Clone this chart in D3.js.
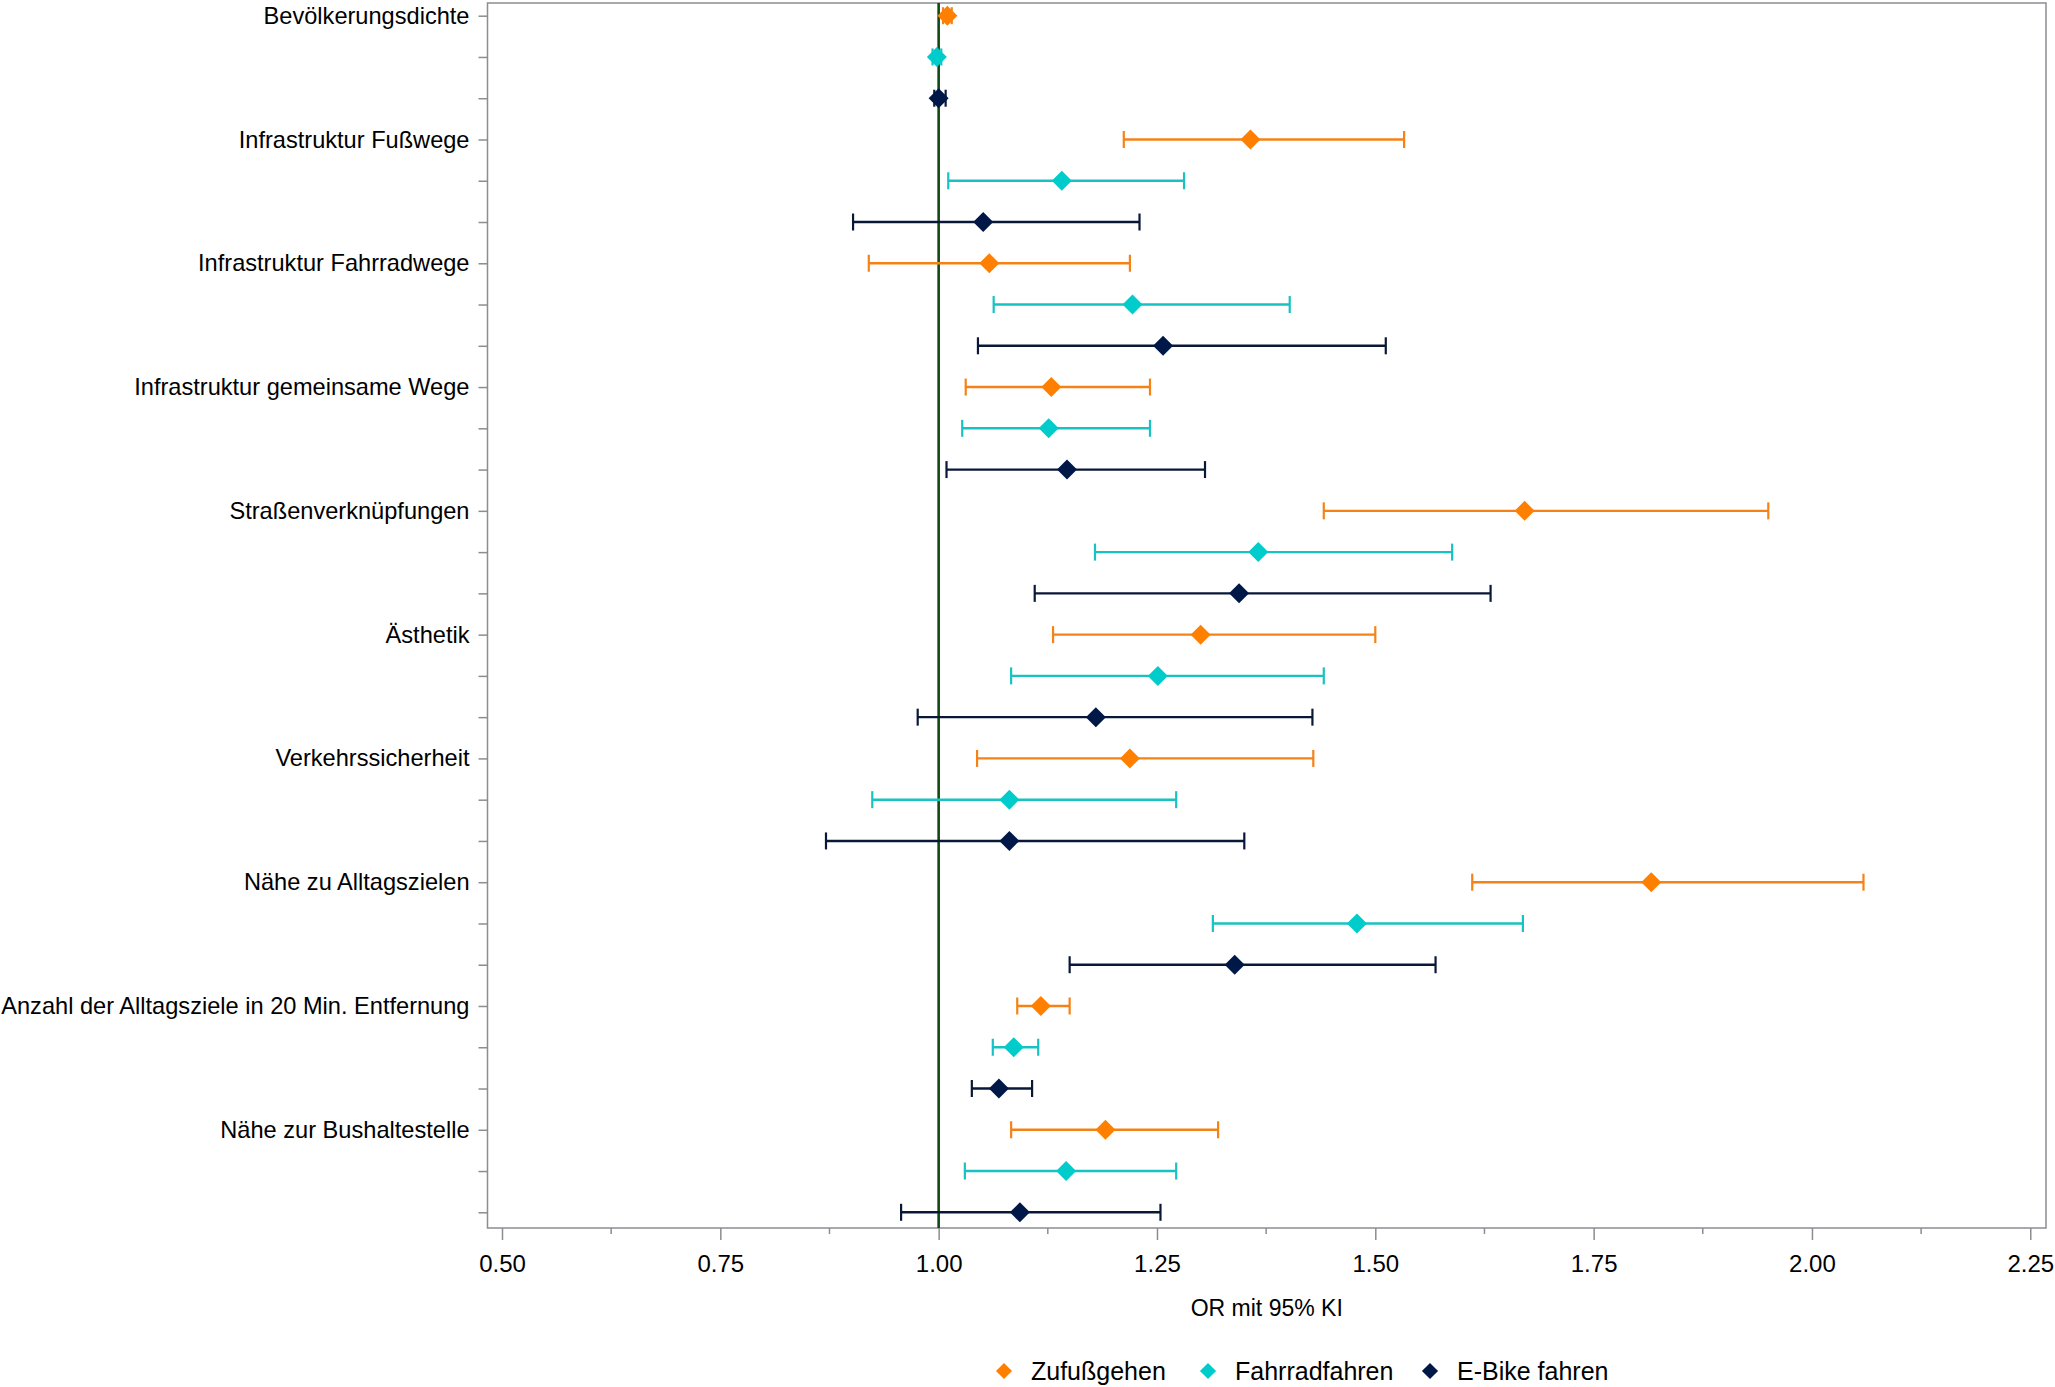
<!DOCTYPE html>
<html>
<head>
<meta charset="utf-8">
<script src="https://cdn.jsdelivr.net/npm/d3@7"></script>
<style>
  body { margin: 0; background: #fff; }
  text { font-family: "Liberation Sans", Arial, sans-serif; }
</style>
</head>
<body>
<script>
// categories (top to bottom)
const categories = [
  "Bevölkerungsdichte",
  "Infrastruktur Fußwege",
  "Infrastruktur Fahrradwege",
  "Infrastruktur gemeinsame Wege",
  "Straßenverknüpfungen",
  "Ästhetik",
  "Verkehrssicherheit",
  "Nähe zu Alltagszielen",
  "Anzahl der Alltagsziele in 20 Min. Entfernung",
  "Nähe zur Bushaltestelle"
]

const seriesNames = ["Zufußgehen", "Fahrradfahren", "E-Bike fahren"]
const seriesColors = ["#FF7F00", "#00CCCC", "#001848"]
const lineColors = ["#F58217", "#19C2C2", "#0A1838"]

// odds ratios with 95% CI
const zuFussOR = [1.010, 1.357, 1.058, 1.129, 1.671, 1.300, 1.219, 1.816, 1.117, 1.191]
const zuFussLo = [1.005, 1.212, 0.920, 1.031, 1.441, 1.131, 1.044, 1.611, 1.090, 1.083]
const zuFussHi = [1.015, 1.533, 1.219, 1.242, 1.950, 1.500, 1.429, 2.059, 1.150, 1.320]

const fahrradOR = [0.998, 1.141, 1.222, 1.126, 1.366, 1.251, 1.081, 1.479, 1.086, 1.146]
const fahrradLo = [0.993, 1.011, 1.063, 1.027, 1.179, 1.083, 0.924, 1.314, 1.062, 1.030]
const fahrradHi = [1.003, 1.281, 1.402, 1.242, 1.588, 1.441, 1.272, 1.669, 1.114, 1.272]

const eBikeOR = [1.000, 1.051, 1.257, 1.147, 1.344, 1.180, 1.081, 1.339, 1.069, 1.093]
const eBikeLo = [0.995, 0.902, 1.045, 1.009, 1.110, 0.976, 0.871, 1.150, 1.038, 0.957]
const eBikeHi = [1.008, 1.230, 1.512, 1.305, 1.632, 1.428, 1.350, 1.569, 1.107, 1.254]

const xTicks = [0.50, 0.75, 1.00, 1.25, 1.50, 1.75, 2.00, 2.25]
const xMinorTicks = [0.625, 0.875, 1.125, 1.375, 1.625, 1.875, 2.125]

const allOR = [zuFussOR, fahrradOR, eBikeOR]
const allLo = [zuFussLo, fahrradLo, eBikeLo]
const allHi = [zuFussHi, fahrradHi, eBikeHi]

// one row per category x series
let rows = []
categories.forEach(function (c, i) {
  seriesNames.forEach(function (s, j) {
    rows.push({
      key: c + "|" + s,
      cat: c,
      s: j,
      or: allOR[j][i],
      lo: allLo[j][i],
      hi: allHi[j][i]
    })
  })
})

const w = 2055
const h = 1387
const margin = { top: 3, right: 9, bottom: 159, left: 487.5 }
const innerWidth = w - margin.left - margin.right
const innerHeight = h - margin.top - margin.bottom

const svg = d3.select("body")
  .append("svg")
  .attr("width", w)
  .attr("height", h)

const xScale = d3.scaleLinear()
  .domain([0.4834, 2.268])
  .range([0, innerWidth])

const yScale = d3.scalePoint()
  .domain(rows.map(d => d.key))
  .range([12.7, 1209.3])

const g = svg.append("g")
  .attr("transform", `translate(${margin.left},${margin.top})`)

const axisColor = "#8a8d91"

// frame
g.append("rect")
  .attr("x", 0)
  .attr("y", 0)
  .attr("width", innerWidth)
  .attr("height", innerHeight)
  .attr("fill", "none")
  .attr("stroke", axisColor)
  .attr("stroke-width", 1.5)

// y axis
const yAxis = d3.axisLeft(yScale)
  .tickSize(9)
  .tickPadding(9)
  .tickFormat(function (k) {
    let r = rows.find(d => d.key == k)
    return r.s == 0 ? r.cat : ""
  })

const yAxisG = g.append("g").call(yAxis)
yAxisG.select(".domain").remove()
yAxisG.selectAll(".tick line").attr("stroke", axisColor).attr("stroke-width", 1.5)
yAxisG.selectAll(".tick text")
  .filter(function () { return this.textContent == "" })
  .remove()
yAxisG.selectAll(".tick text")
  .attr("fill", "#000")
  .style("font-size", "23.6px")

// x axis
const xAxis = d3.axisBottom(xScale)
  .tickValues(xTicks)
  .tickFormat(d3.format(".2f"))
  .tickSize(12)
  .tickPadding(15)

const xAxisG = g.append("g")
  .attr("transform", `translate(0, ${innerHeight})`)
  .call(xAxis)
xAxisG.select(".domain").remove()
xAxisG.selectAll(".tick line").attr("stroke", axisColor).attr("stroke-width", 1.5)
xAxisG.selectAll(".tick text")
  .attr("fill", "#000")
  .style("font-size", "24px")

xAxisG.selectAll(".minor")
  .data(xMinorTicks)
  .enter()
  .append("line")
  .attr("x1", d => xScale(d))
  .attr("x2", d => xScale(d))
  .attr("y1", 0)
  .attr("y2", 6)
  .attr("stroke", axisColor)
  .attr("stroke-width", 1.5)

g.append("text")
  .text("OR mit 95% KI")
  .attr("x", innerWidth / 2)
  .attr("y", innerHeight + 88)
  .attr("text-anchor", "middle")
  .style("font-size", "23px")

// reference line at OR = 1
g.append("line")
  .attr("x1", xScale(1))
  .attr("x2", xScale(1))
  .attr("y1", 0)
  .attr("y2", innerHeight)
  .attr("stroke", "#0E4A12")
  .attr("stroke-width", 2.6)

// error bars
const bars = g.selectAll(".ci")
  .data(rows)
  .enter()
  .append("g")
  .attr("class", "ci")

bars.append("line")
  .attr("x1", d => xScale(d.lo))
  .attr("x2", d => xScale(d.hi))
  .attr("y1", d => yScale(d.key))
  .attr("y2", d => yScale(d.key))
  .attr("stroke", d => lineColors[d.s])
  .attr("stroke-width", 2.4)

bars.selectAll(".cap")
  .data(d => [[d.lo, d], [d.hi, d]])
  .enter()
  .append("line")
  .attr("x1", d => xScale(d[0]))
  .attr("x2", d => xScale(d[0]))
  .attr("y1", d => yScale(d[1].key) - 8.5)
  .attr("y2", d => yScale(d[1].key) + 8.5)
  .attr("stroke", d => lineColors[d[1].s])
  .attr("stroke-width", 2.2)

// diamonds
const diamond = d3.symbol().type(d3.symbolSquare).size(200)

g.selectAll(".pt")
  .data(rows)
  .enter()
  .append("path")
  .attr("class", "pt")
  .attr("d", diamond)
  .attr("transform", d => `translate(${xScale(d.or)},${yScale(d.key)}) rotate(45) scale(1, 1)`)
  .attr("fill", d => seriesColors[d.s])

// legend
const legendX = [1004, 1208, 1430]
const legend = svg.selectAll(".legend")
  .data(seriesNames)
  .enter()
  .append("g")
  .attr("class", "legend")
  .attr("transform", (d, i) => `translate(${legendX[i]}, 1371)`)

legend.append("path")
  .attr("d", d3.symbol().type(d3.symbolSquare).size(130))
  .attr("transform", "rotate(45)")
  .attr("fill", (d, i) => seriesColors[i])

legend.append("text")
  .text(d => d)
  .attr("x", 27)
  .attr("y", 8.5)
  .style("font-size", "25px")
</script>
</body>
</html>
